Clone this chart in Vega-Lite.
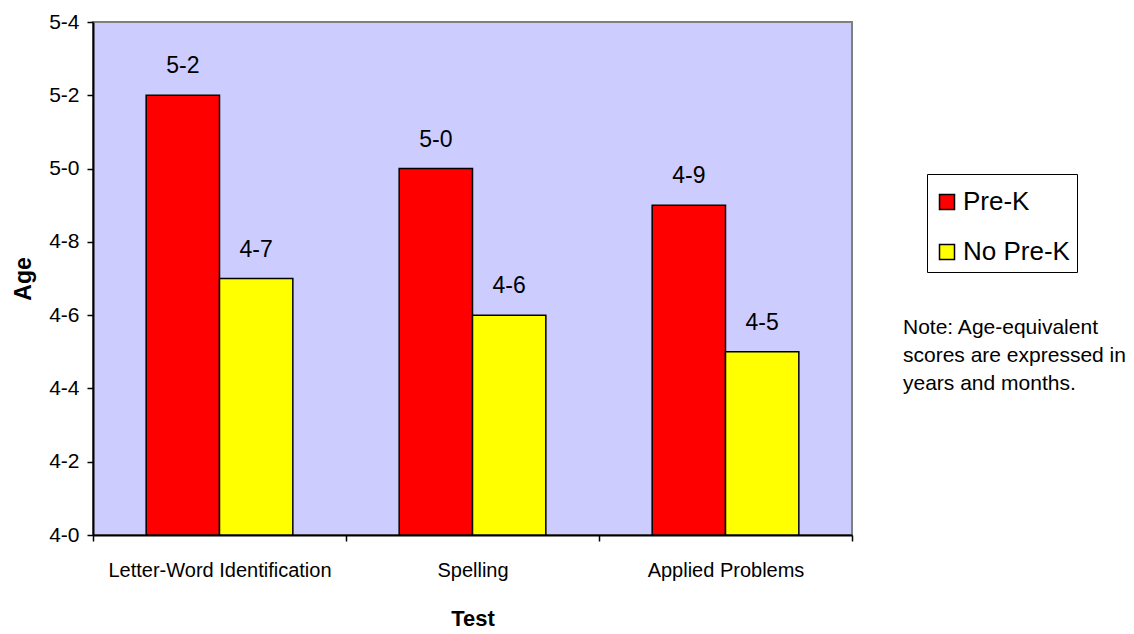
{
  "$schema": "https://vega.github.io/schema/vega-lite/v6.json",
  "autosize": "none",
  "width": 759,
  "height": 513,
  "padding": {"left": 93, "top": 22, "right": 282, "bottom": 99},
  "background": "white",
  "title": {
    "text": ["Note: Age-equivalent", "scores are expressed in", "years and months."],
    "orient": "top",
    "anchor": "start",
    "frame": "group",
    "align": "left",
    "dx": 810,
    "dy": 387,
    "fontSize": 21,
    "fontWeight": "normal",
    "lineHeight": 28,
    "color": "black"
  },
  "data": {
    "values": [
      {"test": "Letter-Word Identification", "group": "Pre-K", "age": 5.2, "label": "5-2"},
      {"test": "Letter-Word Identification", "group": "No Pre-K", "age": 4.7, "label": "4-7"},
      {"test": "Spelling", "group": "Pre-K", "age": 5.0, "label": "5-0"},
      {"test": "Spelling", "group": "No Pre-K", "age": 4.6, "label": "4-6"},
      {"test": "Applied Problems", "group": "Pre-K", "age": 4.9, "label": "4-9"},
      {"test": "Applied Problems", "group": "No Pre-K", "age": 4.5, "label": "4-5"}
    ]
  },
  "encoding": {
    "x": {
      "field": "test",
      "type": "nominal",
      "sort": ["Letter-Word Identification", "Spelling", "Applied Problems"],
      "title": "Test",
      "scale": {"paddingInner": 0, "paddingOuter": 0},
      "axis": {
        "labelAngle": 0,
        "labelLimit": 0,
        "tickBand": "extent",
        "tickSize": 6,
        "tickWidth": 1.5,
        "tickColor": "black",
        "domainColor": "black",
        "domainWidth": 2,
        "labelFontSize": 20,
        "labelPadding": 19,
        "labelColor": "black",
        "titleFontSize": 22,
        "titleFontWeight": "bold",
        "titlePadding": 28,
        "titleColor": "black",
        "grid": false
      }
    },
    "xOffset": {
      "field": "group",
      "type": "nominal",
      "sort": ["Pre-K", "No Pre-K"],
      "scale": {"paddingInner": 0, "paddingOuter": 0.725}
    },
    "y": {
      "field": "age",
      "type": "quantitative",
      "title": "Age",
      "scale": {"domain": [4, 5.4], "nice": false, "zero": false},
      "axis": {
        "values": [4, 4.2, 4.4, 4.6, 4.8, 5.0, 5.2, 5.4],
        "labelExpr": "replace(format(datum.value, '.1f'), '.', '-')",
        "tickSize": 6,
        "tickWidth": 1.5,
        "tickColor": "black",
        "domainColor": "black",
        "domainWidth": 2,
        "labelFontSize": 21,
        "labelPadding": 8,
        "labelColor": "black",
        "titleFontSize": 23,
        "titleFontWeight": "bold",
        "titlePadding": 13,
        "titleColor": "black",
        "grid": false
      }
    }
  },
  "layer": [
    {
      "mark": {"type": "bar", "stroke": "black", "strokeWidth": 1.5},
      "encoding": {
        "y2": {"datum": 4},
        "color": {
          "field": "group",
          "type": "nominal",
          "scale": {"domain": ["Pre-K", "No Pre-K"], "range": ["#FF0000", "#FFFF00"]},
          "legend": {
            "title": " ",
            "titleFontSize": 6,
            "titlePadding": 2,
            "orient": "none",
            "legendX": 834,
            "legendY": 152,
            "direction": "vertical",
            "strokeColor": "black",
            "fillColor": "white",
            "padding": 7,
            "rowPadding": 24,
            "labelOffset": 3,
            "labelFontSize": 26,
            "labelColor": "black",
            "symbolType": "square",
            "symbolSize": 225,
            "symbolStrokeColor": "black",
            "symbolStrokeWidth": 1.5,
            "symbolOpacity": 1
          }
        }
      }
    },
    {
      "mark": {"type": "text", "fontSize": 23, "baseline": "alphabetic", "dy": -22, "color": "black"},
      "encoding": {
        "text": {"field": "label"}
      }
    }
  ],
  "config": {
    "font": "Liberation Sans",
    "view": {"fill": "#CCCCFF", "stroke": "#808080", "strokeWidth": 2}
  }
}
